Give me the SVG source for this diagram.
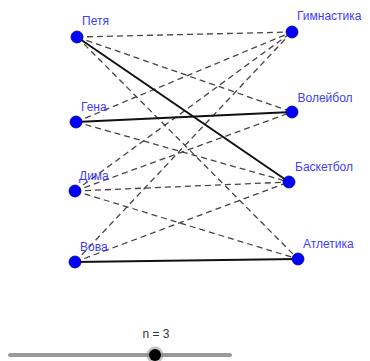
<svg xmlns="http://www.w3.org/2000/svg" width="370" height="361" viewBox="0 0 370 361">
<style>
.lbl{font-family:"Liberation Sans",Arial,sans-serif;font-size:12px;fill:#3d3dff}
.pt{fill:#0000ff;stroke:#00008a;stroke-width:0.8}
.d{stroke:#444;stroke-width:1.3;stroke-dasharray:6,4;fill:none}
.s{stroke:#111;stroke-width:2;fill:none}
</style>
<rect width="370" height="361" fill="#fff"/>
<g id="connectors">
<line class="d" x1="77" y1="37" x2="292" y2="32"/>
<line class="d" x1="77" y1="37" x2="292" y2="112"/>
<line class="d" x1="77" y1="37" x2="298" y2="259"/>
<line class="d" x1="76" y1="122" x2="292" y2="32"/>
<line class="d" x1="76" y1="122" x2="289" y2="182"/>
<line class="d" x1="75" y1="191" x2="292" y2="32"/>
<line class="d" x1="75" y1="191" x2="292" y2="112"/>
<line class="d" x1="75" y1="191" x2="289" y2="182"/>
<line class="d" x1="75" y1="191" x2="298" y2="259"/>
<line class="d" x1="75" y1="262" x2="292" y2="32"/>
<line class="d" x1="75" y1="262" x2="289" y2="182"/>
<line class="s" x1="77" y1="37" x2="289" y2="182"/>
<line class="s" x1="76" y1="122" x2="292" y2="112"/>
<line class="s" x1="75" y1="262" x2="298" y2="259"/>
</g>
<g id="petya"><circle class="pt" cx="77" cy="37" r="6"/><text class="lbl" x="82" y="25">Петя</text></g>
<g id="gena"><circle class="pt" cx="76" cy="122" r="6"/><text class="lbl" x="81" y="111">Гена</text></g>
<g id="dima"><circle class="pt" cx="75" cy="191" r="6"/><text class="lbl" x="79" y="180">Дима</text></g>
<g id="vova"><circle class="pt" cx="75" cy="262" r="6"/><text class="lbl" x="80" y="251">Вова</text></g>
<g id="gymnastics"><circle class="pt" cx="292" cy="32" r="6"/><text class="lbl" x="297" y="19.5">Гимнастика</text></g>
<g id="volleyball"><circle class="pt" cx="292" cy="112" r="6"/><text class="lbl" x="297.5" y="102">Волейбол</text></g>
<g id="basketball"><circle class="pt" cx="289" cy="182" r="6"/><text class="lbl" x="295" y="171">Баскетбол</text></g>
<g id="athletics"><circle class="pt" cx="298" cy="259" r="6"/><text class="lbl" x="303" y="248">Атлетика</text></g>
<g id="slider">
<line x1="10" y1="355" x2="230" y2="355" stroke="#999" stroke-width="4" stroke-linecap="round"/>
<circle cx="155" cy="355" r="8.5" fill="#888" fill-opacity="0.5"/>
<circle cx="155" cy="355" r="6" fill="#000"/>
<text x="156" y="338" text-anchor="middle" font-family="'Liberation Sans',Arial,sans-serif" font-size="12" fill="#333">n = 3</text>
</g>
</svg>
